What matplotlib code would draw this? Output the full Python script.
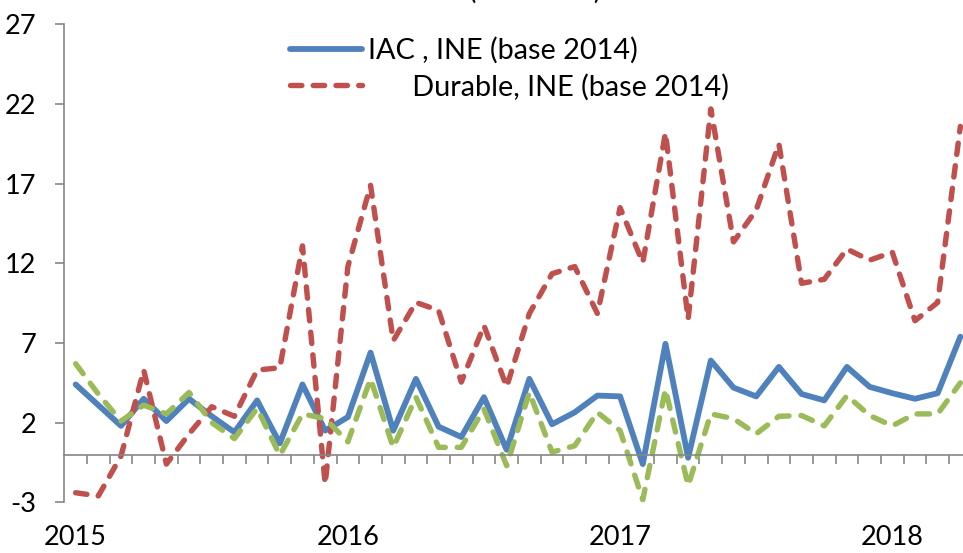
import matplotlib
matplotlib.use("Agg")
import matplotlib.pyplot as plt
import numpy as np

plt.rcParams['font.family'] = ['Lato', 'DejaVu Sans']
plt.rcParams['axes.unicode_minus'] = False

# monthly, Jan 2015 - Apr 2018
iac = [4.4, 3.1, 1.8, 3.5, 2.1, 3.5, 2.4, 1.4, 3.4, 0.7,
       4.4, 1.5, 2.35, 6.4, 1.5, 4.75, 1.75, 1.1, 3.6, 0.3,
       4.75, 1.9, 2.65, 3.7, 3.65, -0.6, 6.95, -0.2, 5.9, 4.2,
       3.65, 5.5, 3.8, 3.4, 5.5, 4.25, 3.85, 3.5, 3.85, 7.4]
durable = [-2.4, -2.6, -0.1, 5.3, -0.6, 1.3, 3.0, 2.4, 5.3, 5.45,
           13.1, -1.85, 11.8, 16.9, 7.15, 9.55, 9.05, 4.55, 8.1, 4.25,
           8.85, 11.35, 11.8, 8.85, 15.5, 12.05, 20.2, 8.5, 21.7, 13.35,
           15.35, 19.5, 10.75, 11.0, 12.9, 12.2, 12.7, 8.4, 9.55, 20.6]
durable_ctx = [5.7, 3.8, 2.1, 3.1, 2.55, 3.9, 2.0, 1.0, 2.9, -0.05,
               2.55, 2.25, 0.8, 4.75, 0.45, 3.6, 0.45, 0.45, 2.85, -0.7,
               3.9, 0.15, 0.55, 2.65, 1.5, -2.85, 4.1, -1.95, 2.55, 2.25,
               1.3, 2.4, 2.45, 1.8, 3.7, 2.45, 1.8, 2.55, 2.55, 4.5]
year_labels = ['2015', '2016', '2017', '2018']
y_ticks = [-3, 2, 7, 12, 17, 22, 27]

x = np.arange(len(iac))
grey = '#868686'

fig = plt.figure(figsize=(9.63, 5.53), dpi=100)
# plot area runs a little past the right edge of the picture
ax = fig.add_axes([64.3 / 963, 50.7 / 553, 907.4 / 963, 477.8 / 553])

l1, = ax.plot(x, iac, color='#4F81BD', lw=4.2, solid_joinstyle='round',
              solid_capstyle='round', label='IAC , INE (base 2014)')
l2, = ax.plot(x, durable, color='#C0504D', lw=3.9, dashes=(2.1, 2.1),
              dash_capstyle='round', dash_joinstyle='round',
              label='      Durable, INE (base 2014)')
l3, = ax.plot(x, durable_ctx, color='#9BBB59', lw=3.9, dashes=(2.3, 2.2),
              dash_capstyle='round', dash_joinstyle='round')

ax.set_xlim(-0.5, len(iac) - 0.5)
ax.set_ylim(-3, 27)

for s in ['top', 'right']:
    ax.spines[s].set_visible(False)
ax.spines['left'].set_color(grey)
ax.spines['left'].set_linewidth(1.2)
ax.spines['bottom'].set_color(grey)
ax.spines['bottom'].set_linewidth(1.2)
ax.spines['bottom'].set_position(('data', 0))

ax.set_yticks(y_ticks)
ax.tick_params(axis='y', direction='out', length=6.3, width=1.2, color=grey,
               pad=14, labelsize=19.5)

ax.set_xticks(np.arange(0, len(iac), 12))
ax.set_xticklabels(year_labels)
ax.set_xticks(np.arange(0.5, len(iac), 1), minor=True)
ax.tick_params(axis='x', which='major', length=0, pad=51, labelsize=19.5)
ax.tick_params(axis='x', which='minor', direction='out', length=6.5,
               width=1.2, color=grey)

ax.legend(handles=[l1, l2], loc='upper left',
          bbox_to_anchor=(290 / 963, 1 - 37 / 553),
          bbox_transform=fig.transFigure, frameon=False, fontsize=20.8,
          borderpad=0, borderaxespad=0, handlelength=2.5,
          handletextpad=0.2, labelspacing=0.34)

fig.text(535 / 963, 1 + 1 / 553, '(var. anual)', ha='center',
         va='baseline', fontsize=20)

fig.savefig('out.png', dpi=100)
